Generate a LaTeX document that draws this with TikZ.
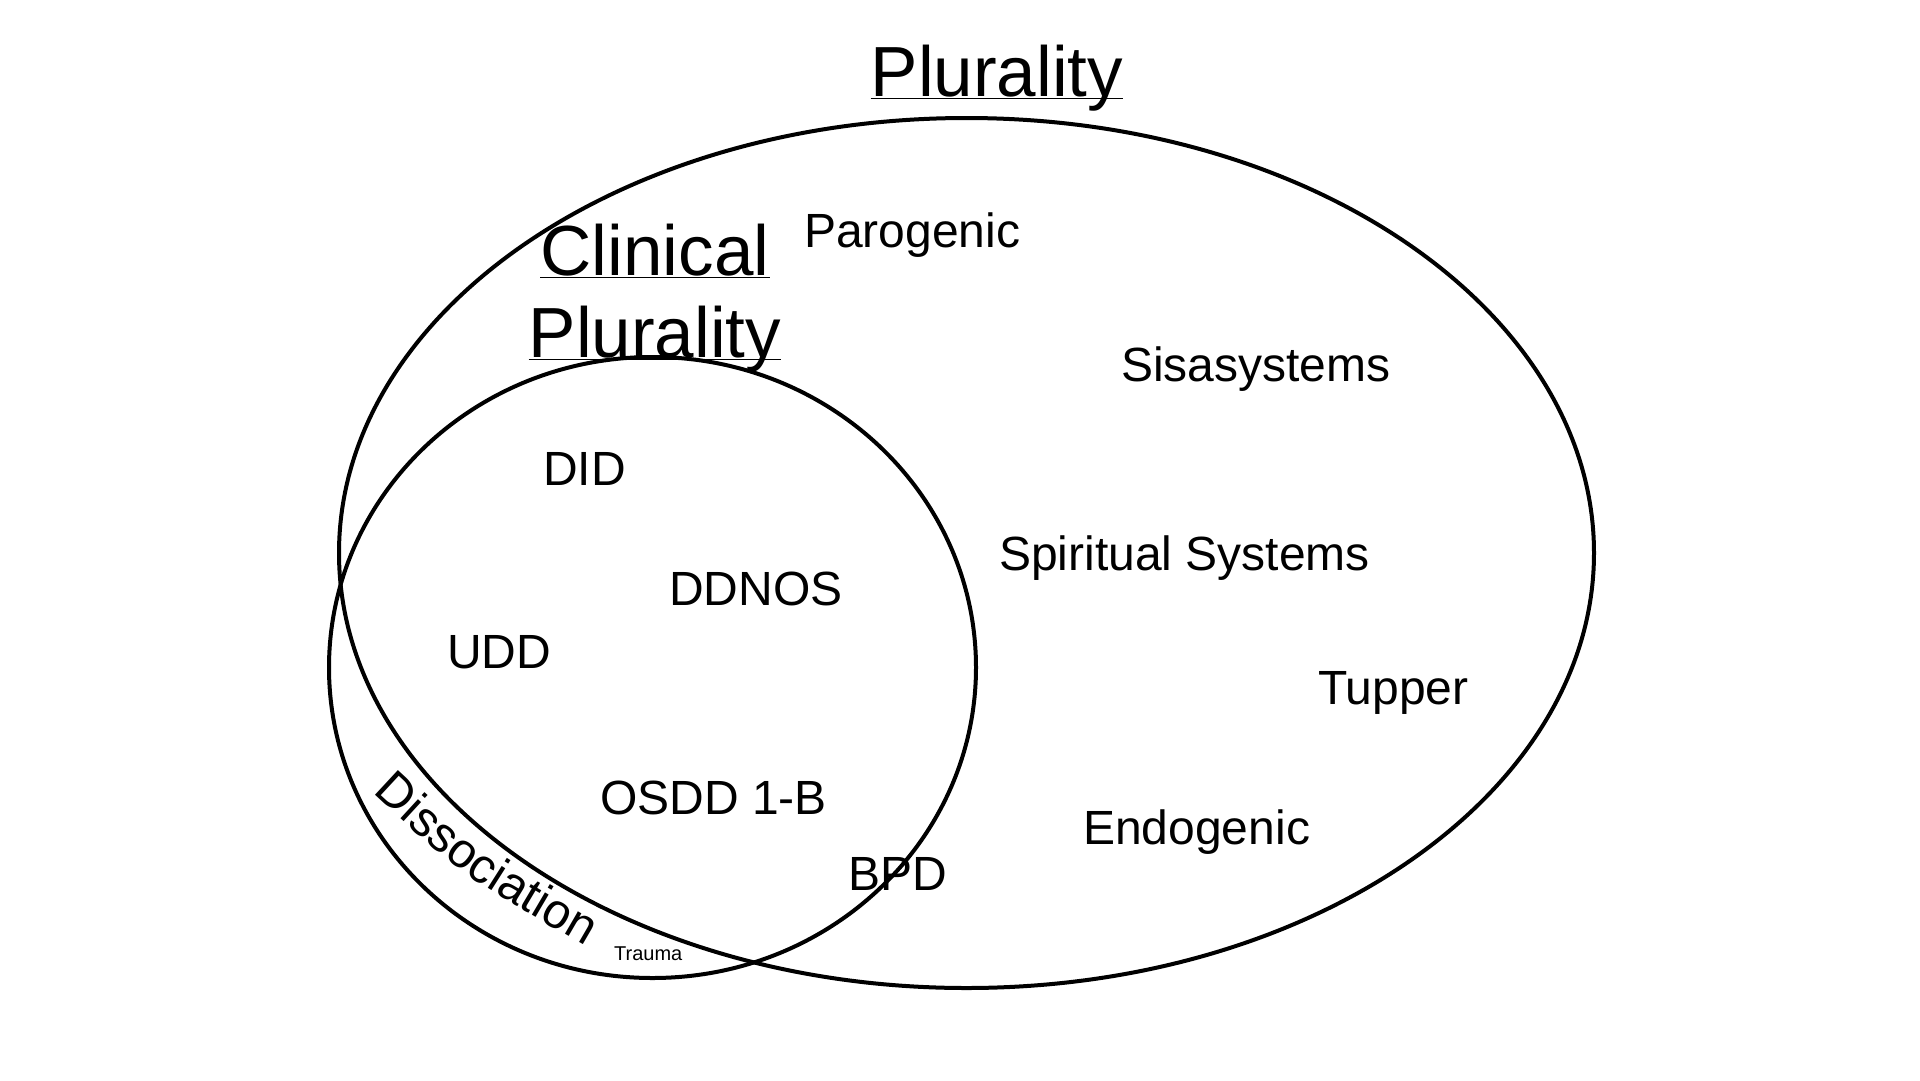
\documentclass[tikz,border=0pt]{standalone}
\usepackage{fontspec}
\setmainfont{Liberation Sans}
\usetikzlibrary{decorations.text}
\begin{document}
\begin{tikzpicture}[x=1pt,y=-1pt,
  lbl/.style={inner sep=0pt, anchor=base west, font=\fontsize{48}{58}\selectfont},
  ttl/.style={inner sep=0pt, anchor=base, font=\fontsize{71}{85}\selectfont},
  venn/.style={line width=4pt},
  uline/.style={line width=1.5pt}]
\useasboundingbox (0,0) rectangle (1920,1080);
% circles
\draw[venn] (966.5,553) ellipse [x radius=627.5pt, y radius=435pt];
\draw[venn] (652.5,667.5) ellipse [x radius=323.5pt, y radius=310.5pt];
% titles
\node[ttl] (plur) at (997,96) {Plurality};
\draw[uline] ([yshift=-2.5pt]plur.base west) -- ([yshift=-2.5pt]plur.base east);
\node[ttl] (clin) at (655,275) {Clinical};
\draw[uline] ([yshift=-2.5pt]clin.base west) -- ([yshift=-2.5pt]clin.base east);
\node[ttl] (cplur) at (655,357) {Plurality};
\draw[uline] ([yshift=-2.5pt]cplur.base west) -- ([yshift=-2.5pt]cplur.base east);
% labels
\node[lbl] (paro) at (804,247) {Parogenic};
\node[lbl] (sisa) at (1121,381) {Sisasystems};
\node[lbl] (did) at (543,485) {DID};
\node[lbl] (ddnos) at (669,605) {DDNOS};
\node[lbl] (udd) at (447,668) {UDD};
\node[lbl] (osdd) at (600,814) {OSDD 1-B};
\node[lbl] (spir) at (999,570) {Spiritual Systems};
\node[lbl] (tupp) at (1318,704) {Tupper};
\node[lbl] (endo) at (1083,844) {Endogenic};
\node[lbl] (bpd) at (848,890) {BPD};
\node[inner sep=0pt, anchor=base west, font=\fontsize{20}{24}\selectfont] (trauma) at (614,960) {Trauma};
% curved label
\path[decorate, decoration={text along path, text align=center,
  text={|\fontsize{49}{49}\selectfont|Dissociation}}]
  (360.4,781.4) -- (375,795) .. controls (459,873) .. (583,945) -- (600,955);
\end{tikzpicture}
\end{document}
